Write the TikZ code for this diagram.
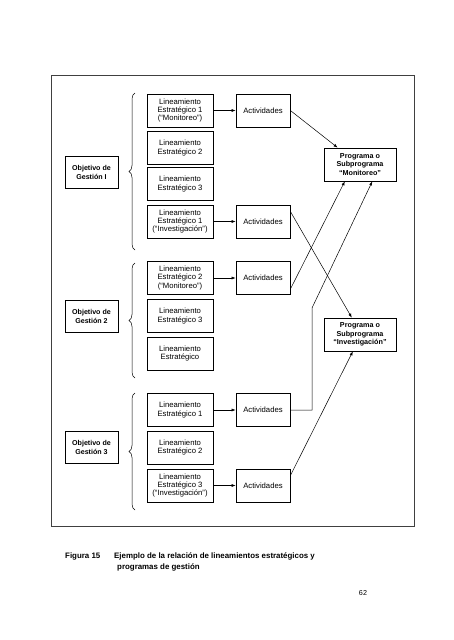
\documentclass[tikz,border=0pt]{standalone}
\usepackage{fontspec}
\setmainfont{Liberation Sans}
\usetikzlibrary{arrows.meta,decorations.pathreplacing,calc}

\tikzset{
  cajita/.style={draw,line width=0.8pt,align=center,inner sep=0pt,
    font=\fontsize{7.7}{8.4}\selectfont},
  lin/.style={cajita,minimum width=66pt,minimum height=33pt},
  act/.style={cajita,minimum width=54pt,minimum height=33pt},
  obj/.style={cajita,minimum width=53pt,minimum height=32pt,font=\fontsize{7.1}{9}\selectfont\bfseries},
  prog/.style={cajita,minimum width=72pt,minimum height=33pt,font=\fontsize{7.2}{8.4}\selectfont\bfseries},
  llave/.style={decorate,decoration={brace,amplitude=6pt},line width=0.5pt},
  flecha/.style={-{Latex[length=4pt,width=3pt]},line width=0.5pt}
}

\begin{document}
\begin{tikzpicture}[x=1pt,y=-1pt]
\useasboundingbox (0,0) rectangle (453,640);
\draw [line width=1pt,black!75] (51,75) rectangle (414,526);

% objetivo 1
  \node[obj] (o1) at (91.5,172) {Objetivo de\\Gesti\'on I};
  \node[lin] (l11) at (180,110.5) {Lineamiento\\Estrat\'egico 1\\(``Monitoreo'')};
  \node[lin] (l12) at (180,148) {Lineamiento\\Estrat\'egico 2};
  \node[lin] (l13) at (180,184) {Lineamiento\\Estrat\'egico 3};
  \node[lin] (l14) at (180,221.5) {Lineamiento\\Estrat\'egico 1\\(``Investigaci\'on'')};
  \node[act] (a11) at (263,110.5) {Actividades};
  \node[act] (a14) at (263,221.5) {Actividades};
\draw [llave] (135,250) to (135,93);

% objetivo 2
  \node[obj] (o2) at (91.5,316) {Objetivo de\\Gesti\'on 2};
  \node[lin] (l21) at (180,278) {Lineamiento\\Estrat\'egico 2\\(``Monitoreo'')};
  \node[lin] (l22) at (180,316) {Lineamiento\\Estrat\'egico 3};
  \node[lin] (l23) at (180,353.5) {Lineamiento\\Estrat\'egico};
  \node[act] (a21) at (263,278) {Actividades};
\draw [llave] (135,378) to (135,263);

% objetivo 3
  \node[obj] (o3) at (91.5,447.5) {Objetivo de\\Gesti\'on 3};
  \node[lin] (l31) at (180,410) {Lineamiento\\Estrat\'egico 1};
  \node[lin] (l32) at (180,447.5) {Lineamiento\\Estrat\'egico 2};
  \node[lin] (l33) at (180,485.5) {Lineamiento\\Estrat\'egico 3\\(``Investigaci\'on'')};
  \node[act] (a31) at (263,410) {Actividades};
  \node[act] (a33) at (263,485.5) {Actividades};
\draw [llave] (135,510) to (135,393);

% programas
  \node[prog] (mon) at (360,164.5) {Programa o\\Subprograma\\``Monitoreo''};
  \node[prog] (inv) at (360,334.5) {Programa o\\Subprograma\\``Investigaci\'on''};

\draw [flecha] (l11) to (a11);
\draw [flecha] (l14) to (a14);
\draw [flecha] (l21) to (a21);
\draw [flecha] (l31) to (a31);
\draw [flecha] (l33) to (a33);

\coordinate (codo) at (312,308);
\draw [flecha] (a11.east) to (mon.143);
\draw [flecha] (a14.20) to (inv.116);
\draw [flecha] (a21.-22) to (mon.-132);
\draw [flecha] (a31.east) -- (a31.east -| codo) -- (codo) -- (mon.-54);
\draw [flecha] (a33.20) to (inv.-113);

% pie de figura
  \node[anchor=base west,inner sep=0pt,font=\fontsize{7.9}{11}\selectfont\bfseries] (fig) at (65,558) {Figura 15};
  \node[anchor=north west,align=left,inner sep=0pt,font=\fontsize{7.9}{11}\selectfont\bfseries] (pie) at (114,552.3)
    {Ejemplo de la relaci\'on de lineamientos estrat\'egicos y\\\hspace{3pt}programas de gesti\'on};
  \node[anchor=base,inner sep=0pt,font=\fontsize{7.2}{9}\selectfont] (pag) at (363,595) {62};
\end{tikzpicture}
\end{document}
